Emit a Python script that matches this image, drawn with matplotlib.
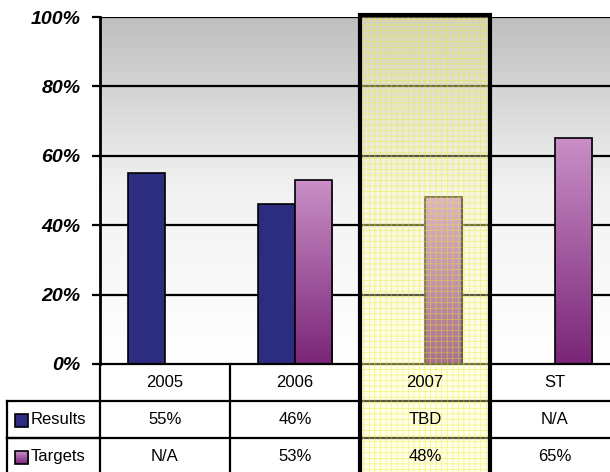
import numpy as np
import matplotlib
matplotlib.use("Agg")
import matplotlib.pyplot as plt
from matplotlib.colors import LinearSegmentedColormap
from matplotlib.patches import Rectangle

plt.rcParams['font.family'] = ['Liberation Sans', 'DejaVu Sans']

categories = ["2005", "2006", "2007", "ST"]
results = [55, 46, None, None]
targets = [None, 53, 48, 65]
results_text = ["55%", "46%", "TBD", "N/A"]
targets_text = ["N/A", "53%", "48%", "65%"]
yticks = [0, 20, 40, 60, 80, 100]
highlight = "2007"

navy = "#2c2d80"
purple_top = "#c98fc6"
purple_bot = "#7a2578"

W, H = 610, 472
fig = plt.figure(figsize=(W / 100, H / 100), dpi=100)
# plot area in pixels: left 100, top 17, bottom 364, right 620 (cut off)
ax = fig.add_axes([100 / W, 1 - 364 / H, 520 / W, 347 / H])

x = np.arange(len(categories))
ax.set_xlim(-0.5, len(categories) - 0.5)
ax.set_ylim(0, 100)

# gray-to-white gradient background
bg = LinearSegmentedColormap.from_list("bg", ["#ffffff", "#f2f2f2", "#bfbfbf"])
grad = np.linspace(0, 1, 256).reshape(-1, 1)
ax.imshow(grad, extent=(-0.5, len(categories) - 0.5, 0, 100), origin="lower",
          aspect="auto", cmap=bg, zorder=0)

for y in yticks[1:]:
    ax.axhline(y, color="black", lw=1.6, zorder=1)

w = 0.285
rx = [xi - w / 2 for xi, v in zip(x, results) if v is not None]
rv = [v for v in results if v is not None]
ax.bar(rx, rv, width=w, color=navy, edgecolor="black", lw=1.2, zorder=3)

pur = LinearSegmentedColormap.from_list("pur", [purple_bot, purple_top])
tx = [xi + w / 2 for xi, v in zip(x, targets) if v is not None]
tv = [v for v in targets if v is not None]
tbars = ax.bar(tx, tv, width=w, color="none", edgecolor="black", lw=1.2, zorder=4)
for b in tbars:
    x0, h = b.get_x(), b.get_height()
    im = ax.imshow(grad, extent=(x0, x0 + w, 0, h), origin="lower",
                   aspect="auto", cmap=pur, zorder=3)
    im.set_clip_path(b)

ax.set_yticks(yticks)
ax.set_yticklabels([f"{t}%" for t in yticks], fontsize=14, fontweight="bold",
                   fontstyle="italic")
ax.tick_params(axis="y", length=6, width=1.6, pad=8)
ax.set_xticks([])
for s in ["top", "right", "bottom"]:
    ax.spines[s].set_visible(False)
ax.spines["left"].set_linewidth(2)

# data table under the chart
tr = ax.get_xaxis_transform()
rh = 37 / 347
label_x = -0.5 - 93 / 130
lw = 1.6
ax.plot([-0.5, 3.6], [0, 0], transform=tr, color="black", lw=lw, clip_on=False, zorder=6)
rows = [(categories, None, None), (results_text, "Results", navy),
        (targets_text, "Targets", "grad")]
for r, (vals, lab, col) in enumerate(rows):
    ytop, ybot = -r * rh, -(r + 1) * rh
    ax.plot([-0.5, 3.6], [ybot, ybot], transform=tr, color="black", lw=lw, clip_on=False,
            zorder=6)
    for i, v in enumerate(vals):
        ax.text(i, (ytop + ybot) / 2, v, transform=tr, ha="center", va="center",
                fontsize=12, clip_on=False, zorder=8)
    for i in range(len(vals) + 1):
        ax.plot([i - 0.5, i - 0.5], [ytop, ybot], transform=tr, color="black", lw=lw,
                clip_on=False, zorder=6)
    if lab:
        ax.plot([label_x, -0.5], [ytop, ytop], transform=tr, color="black", lw=lw, clip_on=False)
        ax.plot([label_x, -0.5], [ybot, ybot], transform=tr, color="black", lw=lw, clip_on=False)
        ax.plot([label_x, label_x], [ytop, ybot], transform=tr, color="black", lw=lw,
                clip_on=False)
        kx = label_x + 8 / 130
        ky = (ytop + ybot) / 2 - 7 / 347
        if col == "grad":
            key = Rectangle((kx, ky), 13 / 130, 13 / 347, transform=tr, facecolor="none",
                            edgecolor="black", lw=1.2, clip_on=False, zorder=5)
            ax.add_patch(key)
            kim = ax.imshow(grad, extent=(kx, kx + 13 / 130, ky, ky + 13 / 347),
                            origin="lower", aspect="auto", cmap=pur, transform=tr,
                            zorder=4, clip_on=False)
            kim.set_clip_path(key)
        else:
            ax.add_patch(Rectangle((kx, ky), 13 / 130, 13 / 347, transform=tr, facecolor=col,
                                   edgecolor="black", lw=1.2, clip_on=False))
        ax.text(kx + 16 / 130, (ytop + ybot) / 2, lab, transform=tr, ha="left", va="center",
                fontsize=12, clip_on=False)

# highlighted column
hi = categories.index(highlight)
plt.rcParams['hatch.linewidth'] = 0.5
ax.add_patch(Rectangle((hi - 0.5, -3 * rh - 0.05), 1, 1.006 + 3 * rh + 0.05, transform=tr,
                       facecolor=(1, 1, 0.75, 0.35), edgecolor=(0.93, 0.9, 0.15, 0.55),
                       hatch="+++", lw=0, clip_on=False, zorder=7))
ax.add_patch(Rectangle((hi - 0.5, -3 * rh - 0.05), 1, 1.006 + 3 * rh + 0.05, transform=tr,
                       facecolor="none", edgecolor="black", lw=3, clip_on=False, zorder=9))

fig.savefig("out.png", dpi=100)
